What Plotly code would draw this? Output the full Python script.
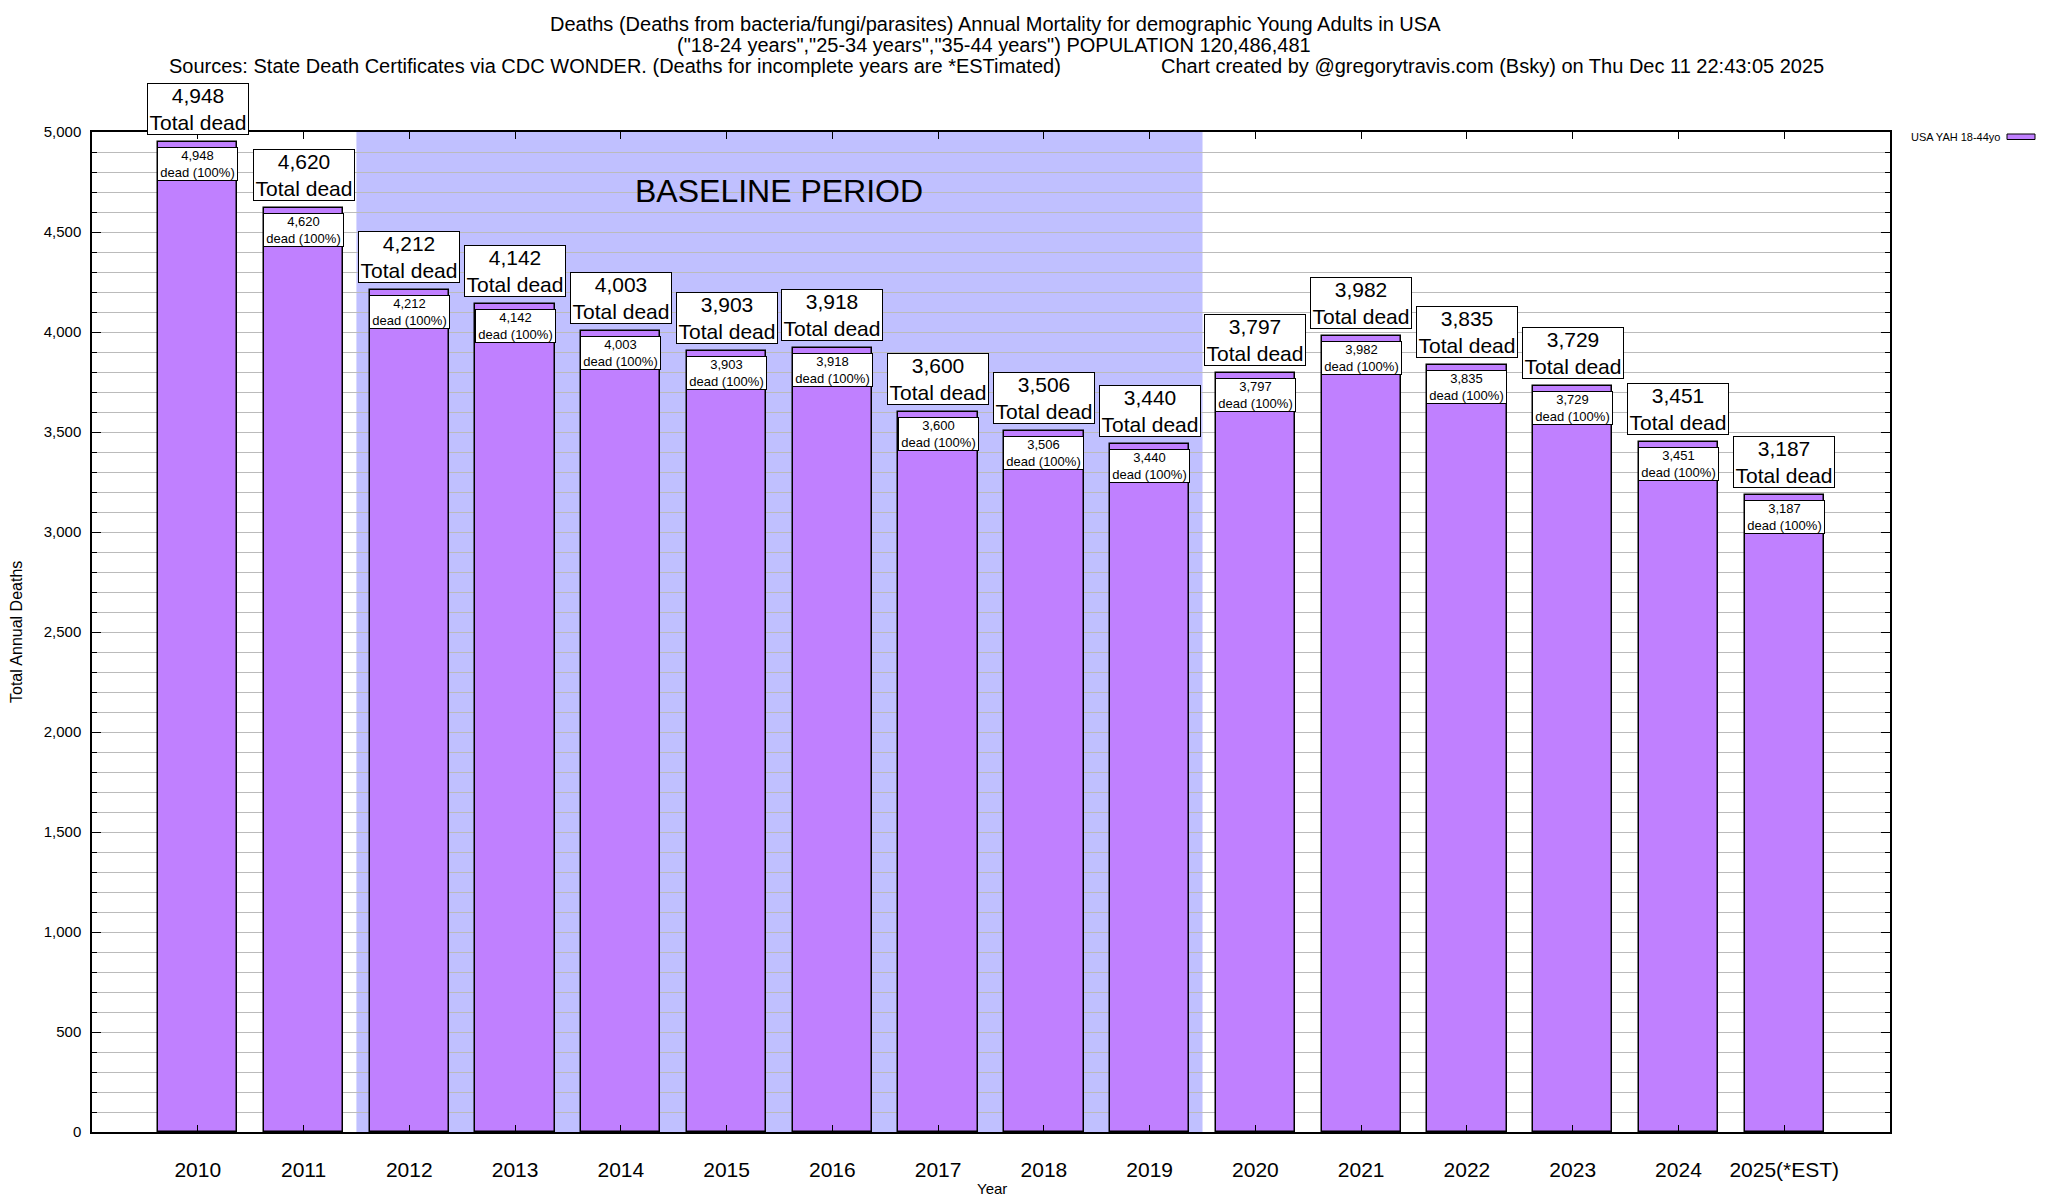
import plotly.graph_objects as go

years = [2010, 2011, 2012, 2013, 2014, 2015, 2016, 2017, 2018, 2019, 2020, 2021, 2022, 2023, 2024, 2025]
year_labels = ["2010", "2011", "2012", "2013", "2014", "2015", "2016", "2017", "2018", "2019",
               "2020", "2021", "2022", "2023", "2024", "2025(*EST)"]
deaths = [4948, 4620, 4212, 4142, 4003, 3903, 3918, 3600, 3506, 3440, 3797, 3982, 3835, 3729, 3451, 3187]
pct = [100] * 16
baseline_start, baseline_end = 2011.5, 2019.5

BAR = "#C080FF"
SHADE = "#C0C0FF"
FONT = "Liberation Sans, Arial, Helvetica, sans-serif"

OFF = 8                      # page body margin
PL, PT, PR, PB = 92, 132, 1890, 1132   # plot area in page pixels
W, H = 2048 - OFF, 1200 - OFF
ML, MT = PL - OFF, PT - OFF
MR, MB = (OFF + W) - PR, (OFF + H) - PB
PW, PH = PR - PL, PB - PT

def px(x):
    return (x - PL) / PW

def py(y):
    return 1 - (y - PT) / PH

fig = go.Figure()
fig.add_trace(go.Bar(
    x=years, y=deaths, width=0.75,
    marker=dict(color=BAR, line=dict(color="black", width=1.5)),
    name="USA YAH 18-44yo", showlegend=False,
))

# baseline shading
fig.add_shape(type="rect", xref="x", yref="paper", x0=baseline_start, x1=baseline_end,
              y0=0, y1=1, fillcolor=SHADE, line=dict(width=0), layer="below")

ann = []
for yr, v, p in zip(years, deaths, pct):
    ann.append(dict(x=yr, y=v, xref="x", yref="y", text=f"{v:,}<br>Total dead",
                    showarrow=False, yanchor="bottom", yshift=7, width=100,
                    font=dict(family=FONT, size=21, color="black"),
                    bgcolor="white", bordercolor="black", borderwidth=1, borderpad=0))
    ann.append(dict(x=yr, y=v, xref="x", yref="y", text=f"{v:,}<br>dead ({p}%)",
                    showarrow=False, yanchor="top", yshift=-5, width=79,
                    font=dict(family=FONT, size=13, color="black"),
                    bgcolor="white", bordercolor="black", borderwidth=1, borderpad=0))

ann.append(dict(x=(baseline_start + baseline_end) / 2, y=4705, xref="x", yref="y",
                text="BASELINE PERIOD", showarrow=False, yanchor="middle",
                font=dict(family=FONT, size=32, color="black")))

# titles
TF = dict(family=FONT, size=20, color="black")
ann.append(dict(x=px(995), y=py(24), xref="paper", yref="paper", showarrow=False,
                xanchor="center", yanchor="middle",
                text="Deaths (Deaths from bacteria/fungi/parasites) Annual Mortality for demographic Young Adults in USA",
                font=TF))
ann.append(dict(x=px(994), y=py(45), xref="paper", yref="paper", showarrow=False,
                xanchor="center", yanchor="middle",
                text='("18-24 years","25-34 years","35-44 years") POPULATION 120,486,481',
                font=TF))
ann.append(dict(x=px(1063), y=py(66), xref="paper", yref="paper", showarrow=False,
                xanchor="right", yanchor="middle",
                text="Sources: State Death Certificates via CDC WONDER. (Deaths for incomplete years are *ESTimated)",
                font=TF))
ann.append(dict(x=px(1159), y=py(66), xref="paper", yref="paper", showarrow=False,
                xanchor="left", yanchor="middle",
                text="Chart created by @gregorytravis.com (Bsky) on Thu Dec 11 22:43:05 2025",
                font=TF))

# axis titles
ann.append(dict(x=px(16), y=0.5, xref="paper", yref="paper", showarrow=False, textangle=-90,
                xanchor="center", yanchor="middle",
                text="Total Annual Deaths", font=dict(family=FONT, size=16, color="black")))
ann.append(dict(x=px(992), y=py(1188), xref="paper", yref="paper", showarrow=False,
                xanchor="center", yanchor="middle",
                text="Year", font=dict(family=FONT, size=15, color="black")))

# legend
ann.append(dict(x=px(2002), y=py(137), xref="paper", yref="paper", showarrow=False,
                xanchor="right", yanchor="middle",
                text="USA YAH 18-44yo", font=dict(family=FONT, size=11, color="black")))
fig.add_shape(type="rect", xref="paper", yref="paper", x0=px(2007), x1=px(2035),
              y0=py(139.5), y1=py(134), fillcolor=BAR, line=dict(color="black", width=1))

fig.update_layout(
    width=W, height=H,
    margin=dict(l=ML, r=MR, t=MT, b=MB, pad=0),
    plot_bgcolor="white", paper_bgcolor="white",
    annotations=ann, showlegend=False,
    font=dict(family=FONT, color="black"),
    bargap=0,
)
fig.update_xaxes(
    range=[2009, 2026], tickmode="array", tickvals=years, ticktext=year_labels,
    tickfont=dict(family=FONT, size=21, color="black"),
    showgrid=False, zeroline=False, showline=True, linecolor="black", linewidth=1.5,
    mirror="allticks", ticks="inside", ticklen=7, tickcolor="black", tickwidth=1,
    ticklabelstandoff=18,
)
fig.update_yaxes(
    range=[0, 5000], tickmode="linear", tick0=0, dtick=500, tickformat=",",
    tickfont=dict(family=FONT, size=15, color="black"),
    showgrid=True, gridcolor="#BBBBBB", gridwidth=1, zeroline=False,
    showline=True, linecolor="black", linewidth=1.5,
    mirror="allticks", ticks="inside", ticklen=9, tickcolor="black", tickwidth=1,
    ticklabelstandoff=6,
    minor=dict(dtick=100, showgrid=True, gridcolor="#BBBBBB", gridwidth=1,
               ticks="inside", ticklen=5, tickcolor="black"),
)

fig.write_html("out.html")
